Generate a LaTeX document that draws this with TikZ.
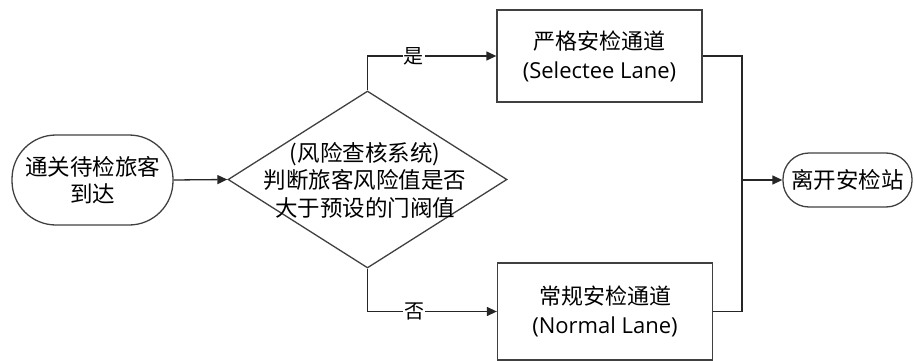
\documentclass[tikz,border=0pt]{standalone}
\usepackage{fontspec}
\newfontfamily\cjk{Noto Sans CJK SC}
\newfontfamily\latinsans{Open Sans}
\usetikzlibrary{shapes.geometric,arrows.meta}
\begin{document}
\begin{tikzpicture}[x=1pt,y=-1pt,
  shapeline/.style={draw=black!75,line width=1.3pt},
  term/.style={shapeline,rectangle,inner sep=0pt,align=center,font=\cjk\fontsize{22.5}{27.5}\selectfont},
  procbox/.style={shapeline,rectangle,inner sep=0pt,align=center,font=\cjk\fontsize{22}{29}\selectfont},
  conn/.style={draw=black!85,line width=1.3pt},
  arr/.style={conn,-{Triangle[length=10pt,width=9pt]}},
  lab/.style={fill=white,inner sep=1pt,font=\cjk\fontsize{20}{24}\selectfont}]
\useasboundingbox (0,0) rectangle (915,361);
\node[term,minimum width=161pt,minimum height=90pt,rounded corners=44pt] (start) at (92.5,180) {通关待检旅客\\到达};
\node[shapeline,diamond,minimum width=279pt,minimum height=177pt,inner sep=0pt] (dec) at (367.5,179.5) {};
\node[align=center,inner sep=0pt,font=\cjk\fontsize{22.5}{27.5}\selectfont] (dectext) at (365,180) {(风险查核系统)\\判断旅客风险值是否\\大于预设的门阀值};
\node[procbox,minimum width=205pt,minimum height=92pt] (top) at (599.5,56) {严格安检通道\\{\latinsans (Selectee Lane)}};
\node[procbox,minimum width=215pt,minimum height=97pt] (bot) at (605,311.5) {常规安检通道\\{\latinsans (Normal Lane)}};
\node[term,minimum width=129pt,minimum height=54pt,rounded corners=26pt] (end) at (847.5,180) {离开安检站};
\coordinate (j) at (742,180);
\draw[arr] (start.east) -- (dec.west);
\draw[arr] (dec.north) |- (top.west) node[lab,pos=0.68] {是};
\draw[arr] (dec.south) |- (bot.west) node[lab,pos=0.68] {否};
\draw[conn] (top.east) -| (j);
\draw[conn] (bot.east) -| (j);
\draw[arr] (j) -- (end.west);
\end{tikzpicture}
\end{document}
